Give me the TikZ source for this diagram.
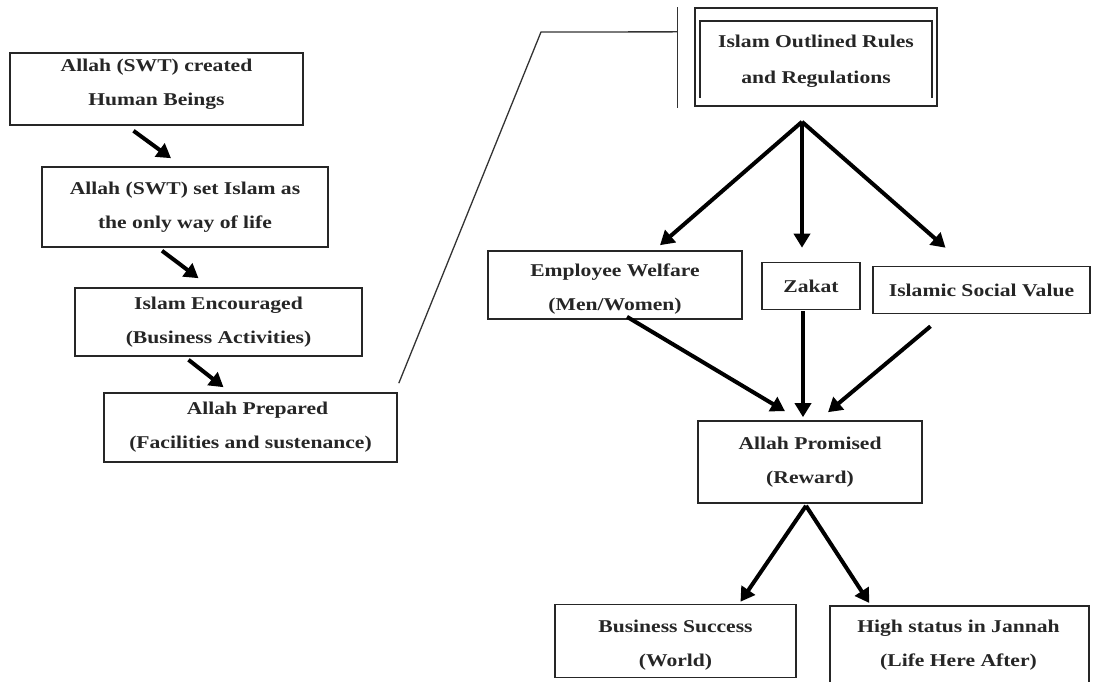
\documentclass[tikz,border=0pt]{standalone}
\usepackage{fontspec}
\setmainfont{Liberation Serif}[FakeStretch=1.2]
\usetikzlibrary{arrows.meta,calc}
\newcommand{\dn}{\rule{0pt}{21pt}}
\newcommand{\up}{\rule[-14pt]{0pt}{1pt}}
\begin{document}
\begin{tikzpicture}[x=1pt,y=-1pt,
  box/.style={draw=black!85, line width=1.6pt, align=center, inner sep=0pt,
    font=\bfseries\fontsize{18}{34}\selectfont, text=black!85},
  arr/.style={line width=4pt, draw=black, -{Triangle[length=14pt,width=16pt]}},
  thin/.style={line width=1.3pt, draw=black!80}]
\useasboundingbox (0,0) rectangle (1093,682);
\fill[white] (0,0) rectangle (1093,682);

% left column
\node[box, minimum width=293pt, minimum height=72pt] (b1) at (156.5,89) {Allah (SWT) created\\Human Beings\up};
\node[box, minimum width=286pt, minimum height=80pt] (b2) at (185,207) {Allah (SWT) set Islam as\\the only way of life};
\node[box, minimum width=287pt, minimum height=68pt] (b3) at (218.5,322) {Islam Encouraged\\(Business Activities)};
\node[box, minimum width=293pt, minimum height=69pt] (b4) at (250.5,427.5) {\hspace*{14pt}Allah Prepared\\(Facilities and sustenance)};

% top right box
\node[box, minimum width=242pt, minimum height=98pt, font=\bfseries\fontsize{18}{36}\selectfont] (top) at (816,57) {\dn Islam Outlined Rules\\and Regulations};
\draw[box] ($(top.south west)+(6,-9)$) -- ($(top.north west)+(6,14)$) -- ($(top.north east)+(-6,14)$) -- ($(top.south east)+(-6,-9)$);
\coordinate (bar1) at ($(top.north west)+(-17,0)$);
\coordinate (bar2) at ($(top.south west)+(-17,1)$);
\draw[thin] (bar1) -- (bar2);
\coordinate (bend) at (541,32);
\coordinate (barmid) at ($(bar1)!0.245!(bar2)$);
\draw[thin] ($(b4.north east)+(1,-9)$) -- (bend) -- (barmid);

% middle row
\node[box, minimum width=254pt, minimum height=68pt] (ew) at (615,285) {\dn Employee Welfare\\(Men/Women)};
\node[box, minimum width=98pt, minimum height=47pt] (zk) at (811,286) {Zakat};
\node[box, minimum width=217pt, minimum height=47pt] (isv) at (981.5,290) {Islamic Social Value};

% promised
\node[box, minimum width=224pt, minimum height=82pt] (ap) at (810,462) {Allah Promised\\(Reward)};

% bottom
\node[box, minimum width=241pt, minimum height=73pt] (bs) at (675.5,641) {\dn Business Success\\(World)};
\node[box, minimum width=259pt, minimum height=100pt, anchor=north west] (hs) at (829,605) {};
\node[font=\bfseries\fontsize{18}{34}\selectfont, text=black!85, align=center, inner sep=0pt] (hst) at (958.5,645) {High status in Jannah\\(Life Here After)};

% left arrows
\draw[arr] ($(b1.south)+(-23,5)$) -- ($(b2.north)+(-14,-8)$);
\draw[arr] ($(b2.south)+(-23,3)$) -- ($(b3.north)+(-20,-9)$);
\draw[arr] ($(b3.south)+(-30,3)$) -- ($(b4.north)+(-27,-5)$);

% top arrows
\coordinate (apex) at ($(top.south)+(-14,15)$);
\draw[arr] (apex) -- ($(ew.north)+(45,-5)$);
\draw[arr] (apex) -- ($(zk.north)+(-9,-14)$);
\draw[arr] (apex) -- ($(isv.north)+(-36,-18)$);

% into promised
\draw[arr] ($(ew.south)+(12,-3)$) -- ($(ap.north)+(-25,-9)$);
\draw[arr] ($(zk.south)+(-8,1)$) -- ($(ap.north)+(-7,-3)$);
\draw[arr] ($(isv.south)+(-51,12)$) -- ($(ap.north)+(18,-8)$);

% out of promised
\coordinate (apb) at ($(ap.south)+(-4,2)$);
\draw[arr] (apb) -- ($(bs.north)+(65,-2)$);
\draw[arr] (apb) -- ($(hs.north)+(-90,-2)$);
\end{tikzpicture}
\end{document}
